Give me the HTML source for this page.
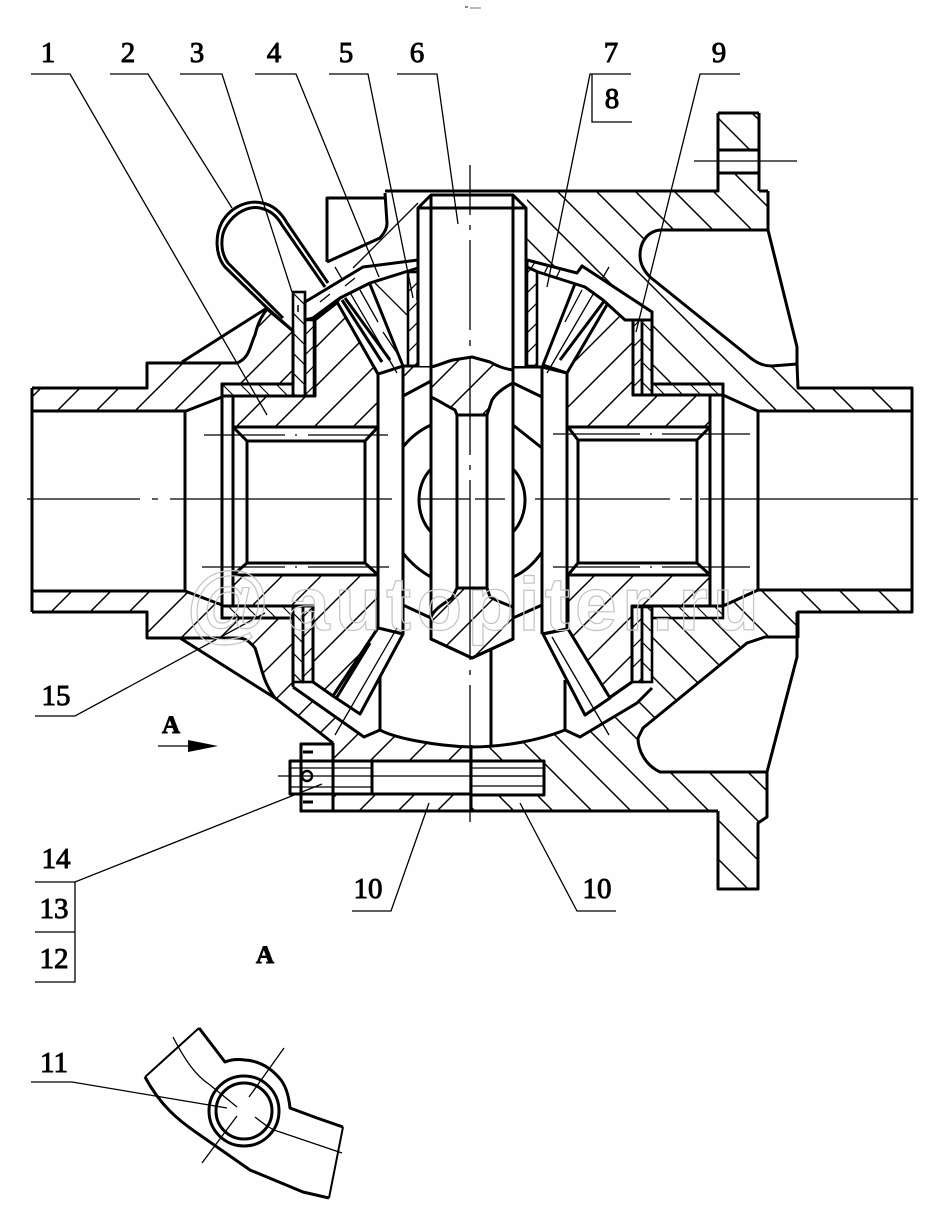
<!DOCTYPE html>
<html><head><meta charset="utf-8"><style>
html,body{margin:0;padding:0;background:#fdfefd}
svg{display:block}
.t{fill:none;stroke:#000;stroke-width:3;stroke-linejoin:round}
.n{fill:none;stroke:#000;stroke-width:1.3}
.w{fill:#fdfefd;stroke:#000;stroke-width:3;stroke-linejoin:round}
.fw{fill:#fdfefd;stroke:none}
.f1{fill:url(#a);stroke:none}
.f2{fill:url(#b);stroke:none}
.h1{fill:url(#a);stroke:#000;stroke-width:3;stroke-linejoin:round}
.h2{fill:url(#b);stroke:#000;stroke-width:3;stroke-linejoin:round}
.s1{fill:url(#c);stroke:#000;stroke-width:2.6}
.s2{fill:url(#d);stroke:#000;stroke-width:2.6}
.s3{fill:url(#e);stroke:#000;stroke-width:2.6}
text{font-family:"Liberation Serif",serif;font-size:29px;fill:#000;stroke:#000;stroke-width:.9;text-anchor:middle}
</style></head><body>
<svg width="943" height="1218" viewBox="0 0 943 1218" xmlns="http://www.w3.org/2000/svg">
<defs>
<pattern id="a" width="39" height="39" patternUnits="userSpaceOnUse"><path d="M-1 40L40 -1M-20 20L20 -20M19 59L59 19" stroke="#000" stroke-width="1.5"/></pattern>
<pattern id="b" x="15" width="39" height="39" patternUnits="userSpaceOnUse"><path d="M-1 -1L40 40M-20 19L20 59M19 -20L59 20" stroke="#000" stroke-width="1.5"/></pattern>
<pattern id="c" width="20" height="20" patternUnits="userSpaceOnUse"><path d="M0 0L20 20M-10 10L10 30M10 -10L30 10" stroke="#000" stroke-width="1.2"/></pattern>
<pattern id="d" width="20" height="20" patternUnits="userSpaceOnUse"><path d="M0 20L20 0M-10 10L10 -10M10 30L30 10" stroke="#000" stroke-width="1.2"/></pattern>
<pattern id="e" width="18" height="18" patternUnits="userSpaceOnUse"><path d="M0 0L18 18M-9 9L9 27M9 -9L27 9" stroke="#000" stroke-width="1.1"/></pattern>
</defs>
<rect width="943" height="1218" fill="#fdfefd"/>
<rect x="465" y="6" width="3" height="2" fill="#888"/><rect x="470" y="7" width="11" height="2" fill="#bbb"/>

<!-- upper left hub -->
<path class="f1" d="M32 388H147V363H237C250 358 250 345 255 335C258 322 262 316 267 309L293 331V384H222V397L186 411H32Z"/>
<path class="t" d="M32 388H147V363H237C250 358 250 345 255 335C258 322 262 316 267 309L293 331V384H222V397L186 411H32"/>
<path class="t" d="M182 362L267 308"/>
<!-- upper block -->
<path class="fw" d="M327 262V198H385V191H418V262L380 238Z"/>
<path class="t" d="M327 262V198H385M327 262L380 238C385 232 387 228 387 223L385 193"/>
<path class="n" d="M353 268L418 203"/>
<!-- right body -->
<path class="f2" d="M527 191H718V113H759V191H768V230H660C645 232 640 245 640 255C640 265 645 272 650 277L747 355C755 362 762 366 772 366L797 364L798 388H912V411H758L723 395V384H652V312L582 266L577 273L527 260Z"/>
<path class="t" d="M768 230H660C645 232 640 245 640 255C640 265 645 272 650 277L747 355C755 362 762 366 772 366L797 364M768 191V230L797 347V364L798 388H912V411H758L723 395V384H652V312L582 266"/>
<rect class="w" x="718" y="150" width="41" height="23"/>
<path class="t" d="M759 191H768M718 113V191H385M759 113V191M718 113H759"/>
<path class="n" d="M694 161H797"/>
<!-- lower left hub -->
<path class="f1" d="M32 591H185L222 605V618H293V687L275 698C262 680 262 668 255 648C248 640 245 638 237 638H147V612H32Z"/>
<path class="t" d="M32 612H147V638H237C245 638 248 640 255 648C262 668 262 680 275 698M32 591H185L222 605V618H293V687"/>
<path class="t" d="M180 638L275 698"/>
<path class="f1" d="M275 698L333 743V761H471V747L423 743L380 730L364 737L293 687Z"/>
<path class="t" d="M275 698L333 743M293 687L364 737L380 730"/>
<rect class="h1" x="333" y="794" width="138" height="17"/>
<path class="f2" d="M723 606L758 590H912V612H798V637H765L747 643L643 728L638 738C638 750 645 765 660 772H767V817L758 823V889H718V811H471V747L523 742L563 730L580 737L637 703L652 688V618H723Z"/>
<path class="t" d="M723 606L758 590H912V612H798V637H765L747 643L643 728L638 738C638 750 645 765 660 772H767V817L758 823V889H718V811M765 637H797V612M797 637V657L767 772"/>
<!-- strips -->
<rect class="s3" x="222" y="384" width="71" height="12"/>
<rect class="s3" x="222" y="606" width="71" height="12"/>
<rect class="s3" x="652" y="384" width="71" height="11"/>
<rect class="s3" x="652" y="606" width="71" height="12"/>

<!-- side gears -->
<path class="h1" d="M233 396H315V320L338 302L378 374V427H233Z"/>
<path class="h1" d="M233 575H378V628L333 696L313 682V606H233Z"/>
<path class="h1" d="M567 373L603 300L633 320V395H710V427H567Z"/>
<path class="h1" d="M568 575H710V606H632V682L609 698L568 629Z"/>
<path class="t" d="M632 682L585 715"/>
<!-- bores -->
<path class="w" d="M222 396H233V606H222Z"/>
<path class="w" d="M710 395H723V606H710Z"/>
<path class="w" d="M233 427H378V575H233Z"/>
<path class="w" d="M567 427H710V575H567Z"/>
<path class="t" d="M233 427L247 441V563L233 575M378 427L365 441V563L378 575M247 441H365M247 563H365M568 427L578 440V563L568 575M710 427L697 440V563L710 575M578 440H697M578 563H697"/>
<path class="t" d="M185 411V591M758 411V590"/>
<path class="t" d="M32 388V612M912 388V612M32 411H186M32 591H186M758 411H912M758 590H912"/>

<!-- flat washers (top) -->
<rect class="s2" x="408" y="272" width="10" height="94"/>
<rect class="s2" x="527" y="267" width="10" height="99"/>
<!-- center blocks -->
<path class="fw" d="M378 374L403 366H542L567 373V629L542 634H513V639L472 658L431 639V634H403L378 628Z"/>
<path class="f1" d="M403 366L431 367V381L403 396Z"/>
<path class="t" d="M378 374V628M403 366V634M542 366V634M567 373V629M378 374L403 366H431M513 367H542L567 373M378 628L403 634M542 634L567 629M403 396L431 381"/>
<path class="t" d="M403 447C410 438 420 430 431 425M403 553C410 562 420 571 431 577M403 605L431 618M513 383L542 397M513 425L542 448M513 577C525 572 535 562 542 552M513 618L542 605"/>
<path class="t" d="M431 469C415 485 415 515 431 532M513 469C529 485 529 515 513 532"/>
<!-- shaft -->
<path class="fw" d="M418 208L431 195H513L526 208V366H418Z"/>
<path class="t" d="M418 366V208L431 195H513L526 208V366M418 208H526M431 195V639L472 658L513 639V195M457 415V588M487 415V588"/>
<path class="h1" d="M431 367C440 365 445 362 453 360L472 357L490 362C497 366 505 369 513 370V383C505 387 497 392 492 400L487 415H457L455 410C445 405 438 400 431 397Z"/>
<path class="h1" d="M431 617C435 608 445 603 452 598L457 588H487L490 597C497 601 505 604 513 607V639L472 658L431 639Z"/>
<!-- lower cavity -->
<path class="t" d="M491 648V747M380 677V730M565 680V730"/>
<path class="t" d="M380 730C395 738 435 746 471 747C505 747 540 740 565 730L580 737L637 703L652 688"/>
<!-- teeth -->
<path class="w" d="M378 374L337 302L363 267L403 366Z"/>
<path class="w" d="M543 365L567 373L608 303L582 266Z"/>
<path class="w" d="M378 628L403 634L360 714L333 696Z"/>
<path class="w" d="M543 634L568 629L610 698L585 715Z"/>
<path class="t" d="M342 300L382 362M345 298L390 360M605 300L560 360M337 697L370 643"/>
<path class="n" d="M335 267L397 373M360 290L378 322M383 332L397 353M375 283L407 315M609 267L547 373M582 290L565 322M397 628L335 735M552 637L609 735"/>
<!-- curved washers -->
<path class="w" d="M305 302L363 267L418 260V268L370 283L340 298L313 318L305 320Z"/>
<path class="w" d="M527 260L577 273L582 266L652 312V320H625L603 300L585 287L538 272L527 267Z"/>
<path class="n" d="M320 302L330 294M345 286L355 278M535 262L530 270M548 266L544 274M560 270L556 278"/>
<!-- flat washers -->
<rect class="s1" x="293" y="292" width="12" height="104"/><rect class="s2" x="305" y="320" width="9" height="76"/>
<rect class="s1" x="293" y="606" width="10" height="76"/><rect class="s2" x="303" y="606" width="10" height="76"/>
<rect class="s2" x="633" y="320" width="9" height="75"/><rect class="s1" x="642" y="320" width="10" height="75"/>
<rect class="s2" x="632" y="607" width="10" height="75"/><rect class="s1" x="642" y="607" width="10" height="75"/>
<!-- loop -->
<path class="t" d="M267 308L225 267C215 255 215 235 222 222C232 205 250 200 262 203C274 205 282 214 287 223L328 283"/>
<path class="t" d="M283 318L228 263C220 252 220 235 227 225C236 211 250 206 260 208C270 210 277 216 282 225L325 287"/>
<path class="t" d="M267 308L292 330"/>
<!-- bolt/pinions -->
<path class="w" d="M301 744H333V811H301Z"/>
<path class="w" d="M290 761H372V794H290Z"/>
<rect class="w" x="372" y="761" width="99" height="33"/>
<rect class="w" x="471" y="761" width="73" height="34"/>
<path class="n" d="M290 768H372M290 787H372M471 768H544M471 786H544M471 776H544"/>
<path class="t" d="M301 744V811H718M333 743V811M303 752H313M303 802H313"/>
<circle cx="307" cy="776" r="5" fill="#fdfefd" stroke="#000" stroke-width="2.4"/>
<path class="t" d="M471 745V811"/>
<!-- center lines -->
<path class="n" d="M27 499H140M152 499H158M170 499H392M420 499H470M475 499H505M535 499H670M680 499H692M700 499H918M470 165V215M470 225V230M470 240V330M470 340V346M470 356V455M470 465V470M470 480V660M470 670V675M470 685V822"/>
<path class="n" d="M204 435H285M295 435H297M308 435H388M553 434H640M650 434H652M662 434H750M202 567H285M295 567H297M308 567H389M553 567H640M650 567H652M662 567H750M278 776H540"/>
<!-- leaders -->
<path class="n" d="M31 74H70L267 415M110 74H148L232 208M180 74H222L292 292M255 74H296L379 277M329 74H368L413 298M397 74H437L458 224M631 74H590L547 287M592 74V122H632M740 74H700L636 332M35 716H75L265 613M352 911H391L429 803M616 911H577L520 803M35 882H75L322 784M35 932H75M35 982H75V882M31 1082H72L227 1108"/>
<path class="t" d="M298 305V312M417 290V300" style="stroke-width:1.5"/>
<!-- arrow -->
<path class="n" d="M158 746H190"/>
<path d="M188 740L218 746L188 752Z" fill="#000"/>
<!-- detail A -->
<path class="t" d="M199 1028L225 1062C232 1059 238 1059 245 1060C262 1061 273 1070 281 1080C287 1088 289 1098 290 1108L317 1118L343 1127M145 1077C160 1105 178 1120 197 1133L250 1170L303 1192L329 1198" stroke-width="2.6"/>
<path class="n" d="M145 1077L199 1028M343 1127L329 1198" style="stroke-width:2"/>
<circle class="t" cx="244" cy="1111" r="35"/><circle class="t" cx="244" cy="1111" r="28"/>
<path class="n" d="M173 1037C185 1060 195 1075 210 1085L237 1107M255 1117C265 1125 272 1130 280 1132L342 1153M284 1048L249 1097M237 1116L202 1163"/>
<!-- labels -->
<text x="48" y="62">1</text><text x="128" y="62">2</text><text x="197" y="62">3</text><text x="274" y="62">4</text><text x="346" y="62">5</text><text x="417" y="62">6</text><text x="611" y="62">7</text><text x="612" y="108">8</text><text x="719" y="62">9</text>
<text x="56" y="705">15</text><text x="368" y="898">10</text><text x="597" y="898">10</text>
<text x="56" y="868">14</text><text x="54" y="918">13</text><text x="54" y="968">12</text>
<text x="54" y="1072">11</text>
<text x="171" y="733" style="font-size:25px;font-weight:bold">A</text><text x="265" y="963" style="font-size:25px;font-weight:bold">A</text>
<!-- watermark -->
<text x="228" y="633" style="font-family:'Liberation Sans',sans-serif;font-size:86px;fill:none;stroke:#c4c4c4;stroke-width:1.2">@</text>
<text x="288" y="630" style="font-family:'Liberation Sans',sans-serif;font-size:75px;letter-spacing:5.3px;text-anchor:start;font-weight:bold;fill:none;stroke:#c4c4c4;stroke-width:1.2">autopiter.ru</text>
</svg>
</body></html>
